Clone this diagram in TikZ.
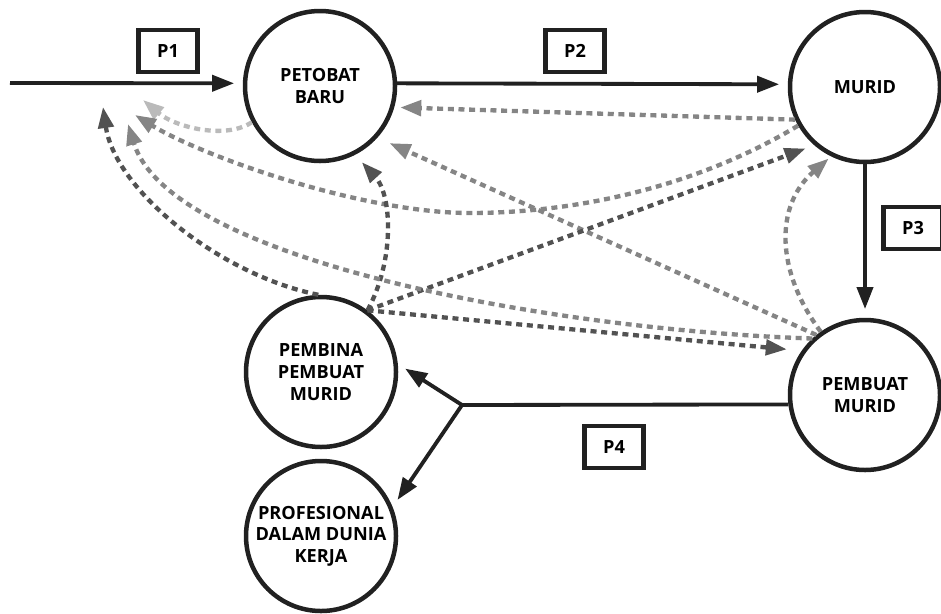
\documentclass[tikz,border=0pt]{standalone}
\usepackage{fontspec}
\setmainfont{Open Sans}
\usepackage{tikz}
\usetikzlibrary{arrows.meta}

\begin{document}
\begin{tikzpicture}[x=0.3mm,y=-0.3mm,font=\fontsize{15.5}{18.5}\selectfont\bfseries,
  stage/.style={draw=black!87,line width=1.35mm,circle,minimum size=45mm,inner sep=0pt,align=center},
  pbox/.style={draw=black!87,line width=1.25mm,minimum width=17.7mm,minimum height=12.6mm,inner sep=0pt},
  flow/.style={draw=black!87,line width=1.15mm,-{Triangle[length=6.6mm,width=4.8mm]},shorten >=2.6mm},
  back/.style={line width=1.3mm,dash pattern=on 1.8mm off 1.4mm,-{Triangle[length=6.3mm,width=4.6mm]},shorten >=1.8mm},
  dkback/.style={back,color=black!68},
  mdback/.style={back,color=black!48},
  ltback/.style={back,color=black!27}]
  \useasboundingbox (0,0) rectangle (941,613);
  \node[stage] (pb) at (320,86) {PETOBAT\\BARU};
  \node[stage] (mu) at (865,87) {MURID};
  \node[stage] (pm) at (865,395) {PEMBUAT\\MURID};
  \node[stage] (pbm) at (321,372) {PEMBINA\\PEMBUAT\\MURID};
  \node[stage] (prof) at (321,536) {PROFESIONAL\\DALAM DUNIA\\KERJA};
  \node[pbox] (p1) at (168,51) {P1};
  \node[pbox] (p2) at (575,51) {P2};
  \node[pbox] (p3) at (913,228) {P3};
  \node[pbox] (p4) at (614,447) {P4};
  \coordinate (in) at (10,83);
  \coordinate (junc) at (462,405);
  \coordinate (t1) at (143,100); \coordinate (t2) at (135,115);
  \coordinate (t8) at (128,124); \coordinate (t9) at (103,107);
  \draw[flow] (in) -- (pb.178);
  \draw[flow] (pb.2) -- (mu.178);
  \draw[flow] (mu.-90) -- (pm.90);
  \draw[draw=black!87,line width=1.15mm] (pm.187) -- (junc);
  \draw[flow] (junc) -- (pbm.6);
  \draw[flow] (junc) -- (prof.22);
  \draw[ltback,shorten >=0pt] (pb.208) .. controls (225,140) and (175,127) .. (t1);
  \draw[mdback,shorten >=0pt] (mu.210) .. controls (700,185) and (580,213) .. (470,213) .. controls (360,213) and (200,155) .. (t2);
  \draw[mdback] (mu.205) -- (pb.-16);
  \draw[mdback,shorten >=4mm] (pm.129) -- (pb.-42);
  \draw[dkback,shorten >=3mm] (pbm.53) .. controls (395,260) and (392,195) .. (pb.-63);
  \draw[dkback,shorten >=2.8mm] (pbm.53) -- (mu.229);
  \draw[dkback,shorten >=4.5mm] (pbm.53) -- (pm.145);
  \draw[mdback,shorten >=0pt] (pm.133) .. controls (550,330) and (170,260) .. (t8);
  \draw[dkback,shorten >=0pt] (pbm.92) .. controls (220,275) and (115,190) .. (t9);
  \draw[mdback,shorten >=1mm] (pm.125) .. controls (775,270) and (775,205) .. (mu.244);
\end{tikzpicture}
\end{document}
